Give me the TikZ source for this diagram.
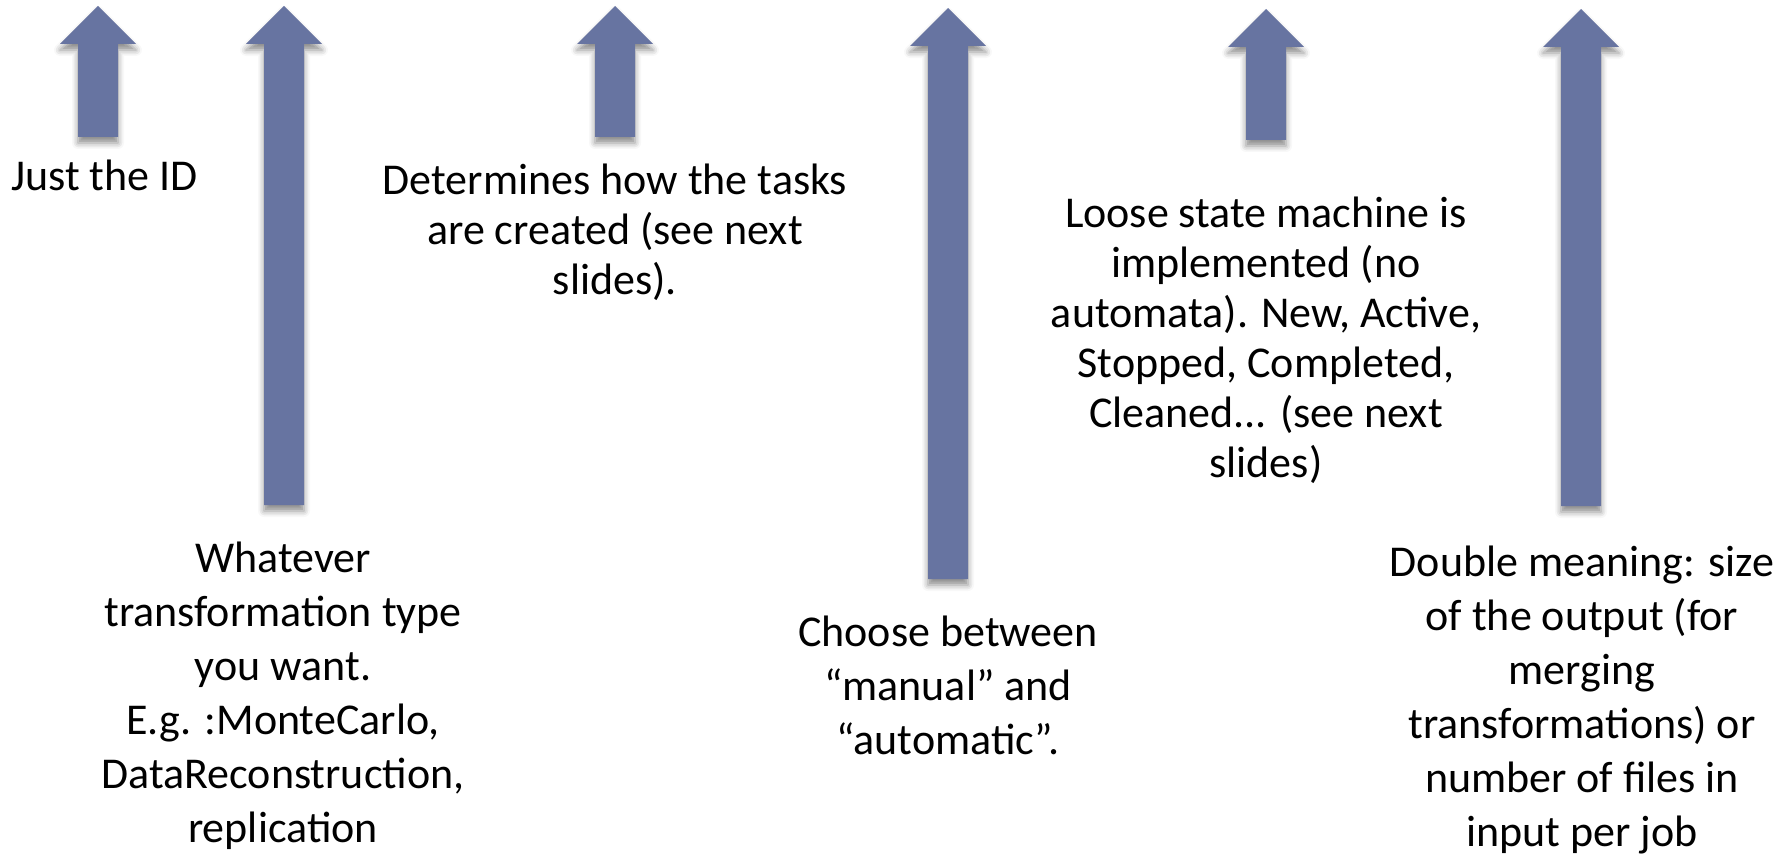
\documentclass[tikz,border=0pt]{standalone}
\usepackage{fontspec}
\setmainfont{Carlito}
\usetikzlibrary{shadows.blur}
\definecolor{arrowfill}{RGB}{103,116,161}

% vertical block arrow: name, centre x, tip y, foot y (pixel units, y down)
\newcommand\blockarrow[4]{%
  \coordinate (#1-tip) at (#2,#3);
  \coordinate (#1-foot) at (#2,#4);
  \path[upbar] (#2-20,#4) -- (#2-20,#3+38) -- (#2-38,#3+38) -- (#1-tip)
    -- (#2+38,#3+38) -- (#2+20,#3+38) -- (#2+20,#4) -- cycle;
}

\begin{document}
\begin{tikzpicture}[x=0.5pt,y=-0.5pt,
  upbar/.style={fill=arrowfill, draw=none,
    blur shadow={shadow xshift=0pt, shadow yshift=-3pt,
      shadow blur radius=3pt, shadow opacity=45}},
  caption/.style={align=center, inner sep=0pt, anchor=north,
    font=\fontsize{22pt}{25pt}\selectfont},
  lowcaption/.style={caption, font=\fontsize{22pt}{27pt}\selectfont}]
\useasboundingbox (0,0) rectangle (1779,861);

\blockarrow{a1}{98}{6}{137}
\blockarrow{a2}{284}{6}{505}
\blockarrow{a3}{615}{6}{137}
\blockarrow{a4}{948}{8}{579}
\blockarrow{a5}{1266}{9}{140}
\blockarrow{a6}{1581}{9}{506}

\node[caption, anchor=base west] (t1) at (11,191) {Just the ID};
\node[caption] (t3) at (615,164)
  {Determines how the tasks\\are created (see next\\slides).};
\node[caption] (t5) at (1266,197)
  {Loose state machine is\\implemented (no\\automata). New, Active,\\Stopped, Completed,\\Cleaned... (see next\\slides)};
\node[lowcaption] (t2) at (283,542)
  {Whatever\\transformation type\\you want.\\E.g. :MonteCarlo,\\DataReconstruction,\\replication};
\node[lowcaption] (t4) at (948,616)
  {Choose between\\“manual” and\\“automatic”.};
\node[lowcaption] (t6) at (1582,546)
  {Double meaning: size\\of the output (for\\merging\\transformations) or\\number of files in\\input per job};
\end{tikzpicture}
\end{document}
